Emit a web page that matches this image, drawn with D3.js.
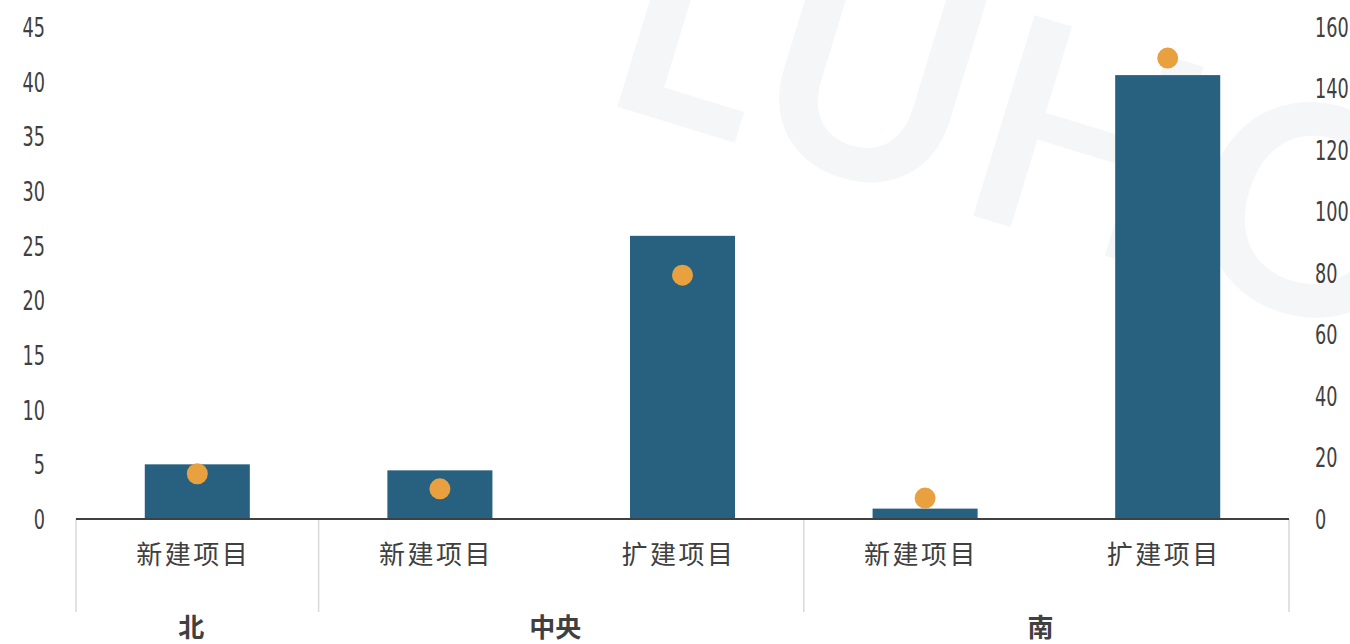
<!DOCTYPE html>
<html><head><meta charset="utf-8">
<script src="https://cdn.jsdelivr.net/npm/d3@7"></script>
<style>
html,body{margin:0;padding:0;background:#fff;overflow:hidden}
svg{display:block}
.tick-num{font-family:"DejaVu Sans",sans-serif;font-size:26px;fill:#404040}
.cat{font-family:"Noto Sans CJK SC",sans-serif;font-size:26px;fill:#404040;letter-spacing:2.5px}
.grp{font-family:"Noto Sans CJK SC",sans-serif;font-size:26px;font-weight:bold;fill:#404040}
</style></head>
<body>
<svg id="chart" width="1350" height="644"></svg>
<script>
const groups = ["北", "中央", "南"];
const groupSizes = [1, 2, 2];
const subCategories = ["新建项目", "新建项目", "扩建项目", "新建项目", "扩建项目"];
const barValues = [5.0, 4.45, 25.9, 0.95, 40.6];
const dotValues = [14.7, 9.8, 79.3, 6.8, 149.9];
const leftTicks = [0, 5, 10, 15, 20, 25, 30, 35, 40, 45];
const rightTicks = [0, 20, 40, 60, 80, 100, 120, 140, 160];

const svg = d3.select("#chart");
const plotL = 76, plotR = 1289, plotT = 27, plotB = 519;

// watermark (logo)
svg.append("text")
  .attr("transform", "translate(595,100) rotate(17)")
  .attr("font-family", "Lato, 'DejaVu Sans', sans-serif")
  .attr("font-weight", "700")
  .attr("font-size", 290)
  .attr("fill", "#f5f6f8")
  .attr("letter-spacing", "6")
  .text("LUHO");

const ids = subCategories.map((d, i) => i);
const x = d3.scaleBand().domain(ids).range([plotL, plotR]).padding(0);
const yL = d3.scaleLinear().domain([0, 45]).range([plotB, plotT]);
const yR = d3.scaleLinear().domain([0, 160]).range([plotB, plotT]);
const barW = x.bandwidth() * 0.433;

// bars
svg.append("g").selectAll("rect").data(barValues).join("rect")
  .attr("x", (d, i) => x(i) + x.bandwidth() / 2 - barW / 2)
  .attr("y", d => yL(d))
  .attr("width", barW)
  .attr("height", d => yL(0) - yL(d))
  .attr("fill", "#28617f");

// left axis
const gL = svg.append("g").attr("transform", `translate(45,0)`)
  .call(d3.axisLeft(yL).tickValues(leftTicks).tickSize(0).tickPadding(0));
gL.select(".domain").remove();
gL.selectAll("text").attr("class", "tick-num").attr("x", 0).attr("dy", "0.36em")
  .attr("text-anchor", "end").attr("transform", "scale(0.68,1)");

// right axis
const gR = svg.append("g").attr("transform", `translate(1315,0)`)
  .call(d3.axisRight(yR).tickValues(rightTicks).tickSize(0).tickPadding(0));
gR.select(".domain").remove();
gR.selectAll("text").attr("class", "tick-num").attr("x", 0).attr("dy", "0.36em")
  .attr("text-anchor", "start").attr("transform", "scale(0.68,1)");

// group separators
let acc = 0;
const bounds = [0];
groupSizes.forEach(s => { acc += s; bounds.push(acc); });
const bx = d => d < ids.length ? x(d) : plotR;
svg.append("g").selectAll("line").data(bounds).join("line")
  .attr("x1", bx).attr("x2", bx)
  .attr("y1", plotB).attr("y2", 612)
  .attr("stroke", "#d9d9d9")
  .attr("stroke-width", 1.5);

// baseline
svg.append("line")
  .attr("x1", plotL).attr("x2", plotR)
  .attr("y1", yL(0)).attr("y2", yL(0))
  .attr("stroke", "#404040").attr("stroke-width", 2);

// dots
svg.append("g").selectAll("circle").data(dotValues).join("circle")
  .attr("cx", (d, i) => x(i) + x.bandwidth() / 2)
  .attr("cy", d => yR(d))
  .attr("r", 10.5)
  .attr("fill", "#e9a03f");

// sub category labels
svg.append("g").selectAll("text").data(subCategories).join("text")
  .attr("class", "cat")
  .attr("x", (d, i) => x(i) + x.bandwidth() / 2 - 4)
  .attr("y", 555)
  .attr("dy", "0.35em")
  .attr("text-anchor", "middle")
  .text(d => d);

// group labels
svg.append("g").selectAll("text").data(groups).join("text")
  .attr("class", "grp")
  .attr("x", (d, i) => (bx(bounds[i]) + bx(bounds[i + 1])) / 2 - 6)
  .attr("y", 637)
  .attr("text-anchor", "middle")
  .text(d => d);
</script>
</body></html>
